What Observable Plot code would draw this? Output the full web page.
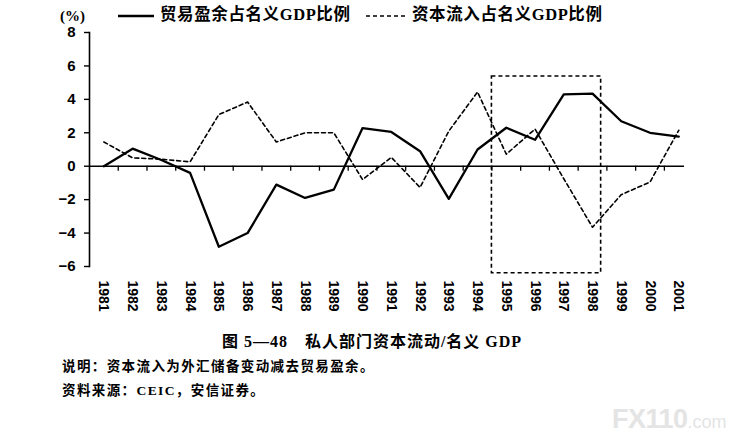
<!DOCTYPE html>
<html><head><meta charset="utf-8">
<script src="https://cdn.jsdelivr.net/npm/d3@7"></script>
<script src="https://cdn.jsdelivr.net/npm/@observablehq/plot@0.6"></script>
<style>
body{margin:0;background:#fff;width:740px;height:445px;overflow:hidden;font-family:"Liberation Serif","Noto Sans CJK SC",serif;color:#000;}
#legend{position:relative;height:26px;width:740px;}
#legend .t{position:absolute;white-space:nowrap;font-weight:bold;}
#legend svg{position:absolute;}
#chart svg{overflow:visible;display:block;}
#notes{position:relative;height:119px;width:740px;}
#notes .t{position:absolute;white-space:nowrap;font-weight:bold;}
</style></head><body>
<div id="legend">
  <span class="t" style="left:60px;top:6px;font-size:15px;line-height:20px;">(%)</span>
  <svg style="left:118px;top:10px" width="36" height="12"><line x1="0" x2="36" y1="6" y2="6" stroke="#000" stroke-width="2.4"/></svg>
  <span class="t" style="left:160px;top:5px;font-size:16.5px;line-height:20px;letter-spacing:0.6px;">贸易盈余占名义GDP比例</span>
  <svg style="left:366px;top:10px" width="40" height="12"><line x1="0" x2="40" y1="6" y2="6" stroke="#000" stroke-width="1.6" stroke-dasharray="4,3"/></svg>
  <span class="t" style="left:412px;top:5px;font-size:16.5px;line-height:20px;letter-spacing:0.6px;">资本流入占名义GDP比例</span>
</div>
<div id="chart"></div>
<div id="notes">
  <span class="t" id="title" style="left:372px;top:6px;font-size:16px;line-height:20px;letter-spacing:1px;transform:translateX(-50%);">图 5—48　私人部门资本流动/名义 GDP</span>
  <span class="t" style="left:62px;top:32px;font-size:13.5px;line-height:18px;letter-spacing:1.4px;">说明：资本流入为外汇储备变动减去贸易盈余。</span>
  <span class="t" style="left:62px;top:56px;font-size:13.5px;line-height:18px;letter-spacing:1.4px;">资料来源：CEIC，安信证券。</span>
  <span class="t" style="left:612px;top:78px;font-family:'Liberation Sans',sans-serif;color:#e4e4e4;line-height:30px;"><span style="font-size:27px;letter-spacing:-0.5px;">FX110</span><span style="font-size:18px;font-weight:normal;">.com</span></span>
</div>
<script>
const years = [1981,1982,1983,1984,1985,1986,1987,1988,1989,1990,1991,1992,1993,1994,1995,1996,1997,1998,1999,2000,2001];
const tradeSurplus = [0, 1.05, 0.37, -0.4, -4.82, -4.0, -1.1, -1.9, -1.4, 2.28, 2.05, 0.9, -1.95, 1.0, 2.3, 1.58, 4.3, 4.34, 2.69, 2.0, 1.77];
const capitalInflow = [1.45, 0.5, 0.42, 0.26, 3.09, 3.84, 1.45, 2.0, 2.0, -0.8, 0.53, -1.27, 2.1, 4.44, 0.72, 2.22, -0.75, -3.65, -1.7, -0.95, 2.15];
const yTicks = [-6, -4, -2, 0, 2, 4, 6, 8];
const highlightFrom = [1994.5];
const highlightTo = [1998.3];
const highlightLow = [-6.4];
const highlightHigh = [5.37];

const trade = years.map((year, i) => ({year, value: tradeSurplus[i]}));
const capital = years.map((year, i) => ({year, value: capitalInflow[i]}));
const bounds = years.slice(1).map(y => y - 0.5);
const highlight = highlightFrom.map((f, i) => ({x1: f, x2: highlightTo[i], y1: highlightLow[i], y2: highlightHigh[i]}));

const chart = Plot.plot({
  width: 740,
  height: 300,
  marginLeft: 89,
  marginRight: 56,
  marginTop: 6,
  marginBottom: 60,
  style: {fontFamily: "'Liberation Sans', Arial, sans-serif", background: "transparent", color: "#000", overflow: "visible"},
  x: {domain: [1980.5, 2001.2]},
  y: {domain: [-6, 8]},
  marks: [
    Plot.frame({anchor: "left", stroke: "#000", strokeWidth: 1.6}),
    Plot.ruleY([0], {stroke: "#000", strokeWidth: 1.5}),
    Plot.ruleX(bounds, {x: d => d, y1: () => 0, y2: () => -0.3, stroke: "#000", strokeWidth: 1.3}),
    Plot.rect(highlight, {x1: "x1", x2: "x2", y1: "y1", y2: "y2", fill: "none", stroke: "#000", strokeWidth: 1.6, strokeDasharray: "4,3"}),
    Plot.line(capital, {x: "year", y: "value", stroke: "#000", strokeWidth: 1.6, strokeDasharray: "4,3"}),
    Plot.line(trade, {x: "year", y: "value", stroke: "#000", strokeWidth: 2.3}),
    Plot.axisY({ticks: yTicks, tickSize: 5, tickPadding: 9, fontSize: 15, fontWeight: "bold", label: null, stroke: "#000", strokeWidth: 1.4}),
    Plot.axisX({ticks: years, tickSize: 0, tickRotate: 90, tickPadding: 14, fontSize: 14, fontWeight: "bold", label: null, tickFormat: d => String(d)})
  ]
});
document.getElementById("chart").appendChild(chart);
</script>
</body></html>
